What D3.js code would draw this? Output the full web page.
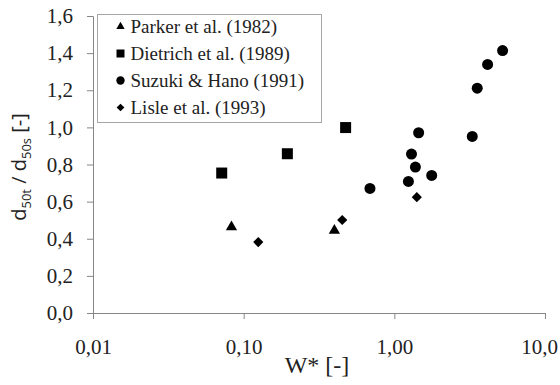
<!DOCTYPE html>
<html>
<head>
<meta charset="utf-8">
<script src="https://cdn.jsdelivr.net/npm/d3@7"></script>
<style>
  body { margin: 0; background: #fff; }
  svg { display: block; }
  .domain, .tick line { stroke: #868686; }
</style>
</head>
<body>
<svg id="chart" width="560" height="385"></svg>
<script>
// series: [W*, d50t/d50s]
const parkerX = [0.083, 0.40];
const parkerY = [0.463, 0.445];
const dietrichX = [0.0715, 0.195, 0.475];
const dietrichY = [0.754, 0.858, 0.999];
const suzukiX = [0.689, 1.24, 1.30, 1.38, 1.45, 1.77, 3.29, 3.55, 4.16, 5.23];
const suzukiY = [0.671, 0.709, 0.856, 0.786, 0.971, 0.741, 0.951, 1.211, 1.339, 1.414];
const lisleX = [0.125, 0.451, 1.41];
const lisleY = [0.382, 0.501, 0.624];

const seriesNames = ["Parker et al. (1982)", "Dietrich et al. (1989)", "Suzuki & Hano (1991)", "Lisle et al. (1993)"];
const xTicks = [0.01, 0.1, 1, 10];
const xTickLabels = ["0,01", "0,10", "1,00", "10,0"];
const yTicks = [0, 0.2, 0.4, 0.6, 0.8, 1.0, 1.2, 1.4, 1.6];

const serif = "'Liberation Serif'";
const svg = d3.select("#chart");
const margin = {left: 93, right: 15, top: 16, bottom: 72};
const W = 560, H = 385;

const x = d3.scaleLog().domain([0.01, 10]).range([margin.left, W - margin.right]);
const y = d3.scaleLinear().domain([0, 1.6]).range([H - margin.bottom, margin.top]);

// axes
svg.append("g")
    .attr("transform", `translate(0,${y(0)})`)
    .call(d3.axisBottom(x).tickValues(xTicks).tickFormat((d, i) => xTickLabels[i]).tickSize(6).tickPadding(20))
    .call(g => g.select(".tick:last-of-type text").attr("dx", -6));

svg.append("g")
    .attr("transform", `translate(${x(0.01)},0)`)
    .call(d3.axisLeft(y).tickValues(yTicks).tickFormat(d => d3.format(".1f")(d).replace(".", ",")).tickSize(6).tickPadding(14));

svg.selectAll(".tick text")
    .style("font-family", serif)
    .style("font-size", "21px")
    .attr("fill", "#222");

// markers
const symbols = [
    {type: d3.symbolTriangle, size: 55, rot: 0, lsize: 30},
    {type: d3.symbolSquare, size: 121, rot: 0, lsize: 64},
    {type: d3.symbolCircle, size: 95, rot: 0, lsize: 55},
    {type: d3.symbolSquare, size: 52, rot: 45, lsize: 30}
];
const series = [
    d3.zip(parkerX, parkerY),
    d3.zip(dietrichX, dietrichY),
    d3.zip(suzukiX, suzukiY),
    d3.zip(lisleX, lisleY)
];

series.forEach((pts, i) => {
    const s = symbols[i];
    svg.append("g").selectAll("path")
        .data(pts)
        .join("path")
        .attr("d", d3.symbol().type(s.type).size(s.size))
        .attr("transform", d => `translate(${x(d[0])},${y(d[1])}) rotate(${s.rot})`)
        .attr("fill", "#000");
});

// legend
const legend = svg.append("g").attr("transform", "translate(97.5,14.5)");
legend.append("rect")
    .attr("width", 224).attr("height", 108)
    .attr("fill", "#fff").attr("stroke", "#a6a6a6").attr("stroke-width", 1);

seriesNames.forEach((name, i) => {
    const s = symbols[i];
    const row = legend.append("g").attr("transform", `translate(0,${12 + i * 27})`);
    row.append("path")
        .attr("d", d3.symbol().type(s.type).size(s.lsize))
        .attr("transform", `translate(23,0) rotate(${s.rot})`)
        .attr("fill", "#000");
    row.append("text")
        .attr("x", 33).attr("dy", "0.35em")
        .style("font-family", serif)
        .style("font-size", "19px")
        .attr("fill", "#222")
        .text(name);
});

// axis titles
svg.append("text")
    .attr("x", 317).attr("y", 373)
    .attr("text-anchor", "middle")
    .style("font-family", serif)
    .style("font-size", "24px")
    .attr("fill", "#222")
    .text("W* [-]");

const yt = svg.append("text")
    .attr("transform", "translate(26,167) rotate(-90)")
    .attr("text-anchor", "middle")
    .style("font-family", "'Open Sans'")
    .style("font-size", "20px")
    .attr("fill", "#222");
yt.append("tspan").text("d");
yt.append("tspan").attr("dy", 5).style("font-size", "13px").text("50t");
yt.append("tspan").attr("dy", -5).text(" / d");
yt.append("tspan").attr("dy", 5).style("font-size", "13px").text("50s");
yt.append("tspan").attr("dy", -5).text(" [-]");
</script>
</body>
</html>
